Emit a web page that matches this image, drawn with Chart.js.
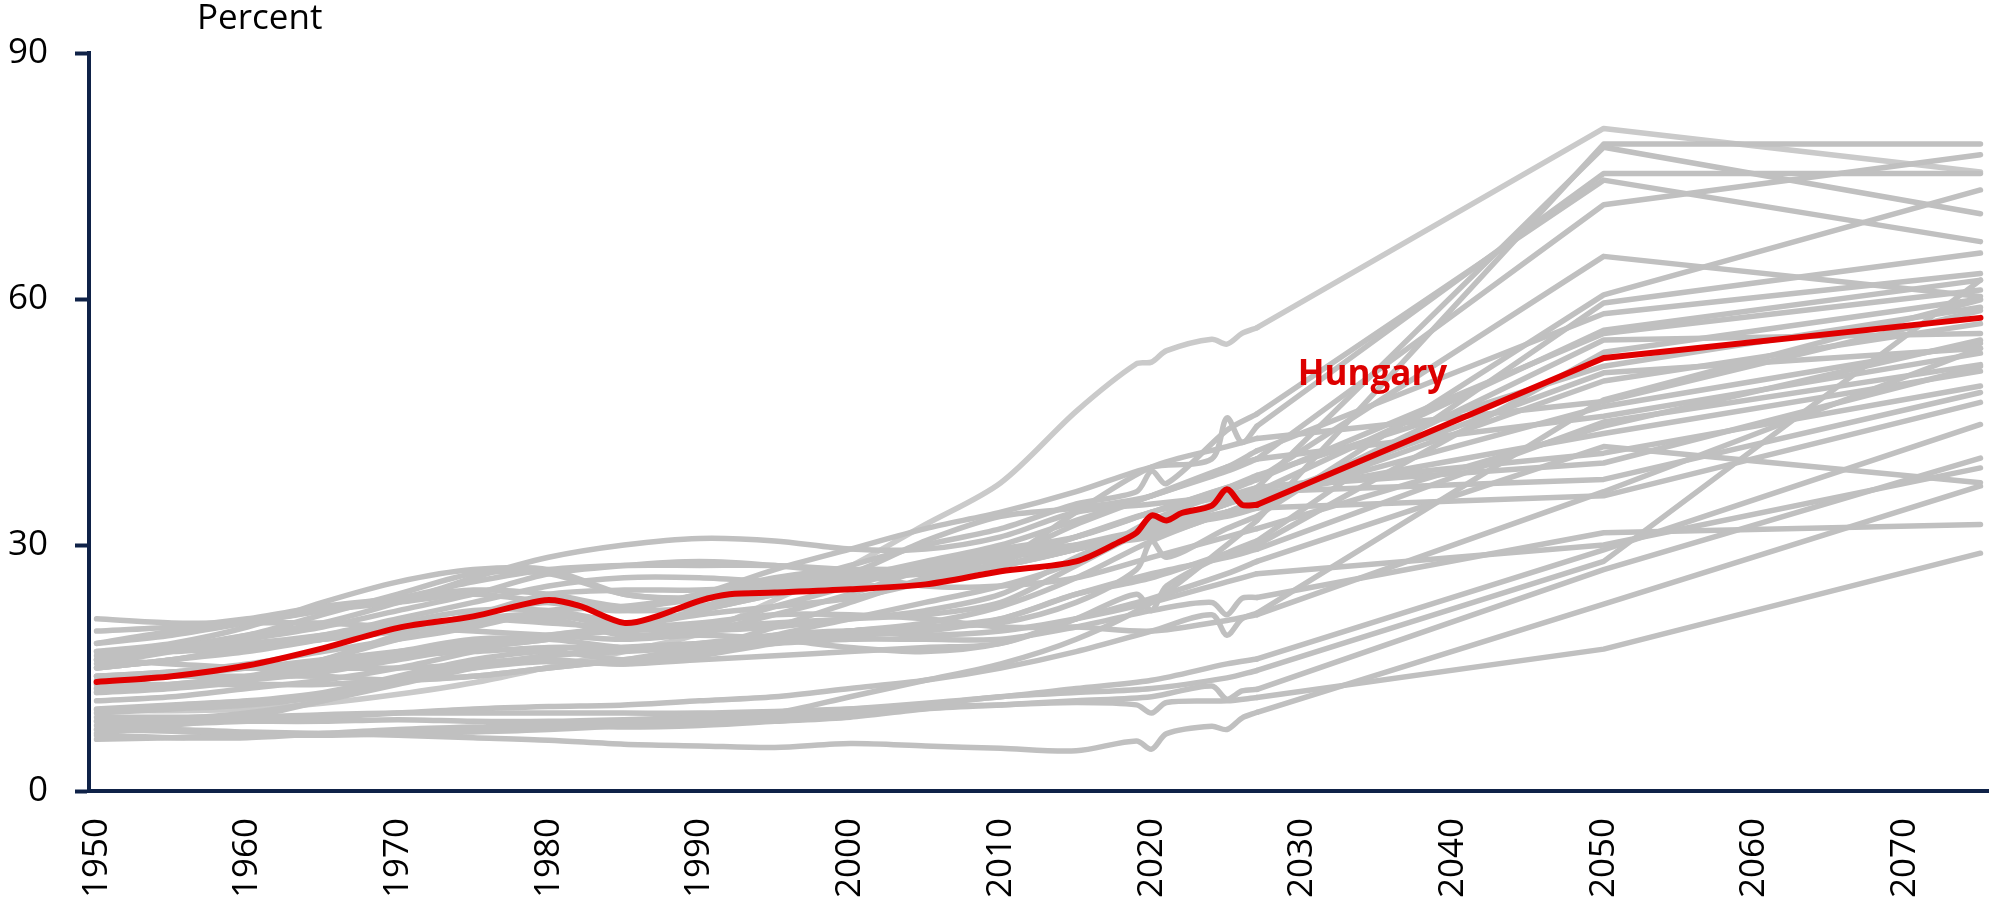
<!DOCTYPE html>
<html>
<head>
<meta charset="utf-8">
<script src="https://cdn.jsdelivr.net/npm/chart.js@4.4.1/dist/chart.umd.min.js"></script>
<style>
    body { margin: 0; background: #fff; }
    #wrap { width: 1990px; height: 908px; }
</style>
</head>
<body>
<div id="wrap"><canvas id="myChart" width="1990" height="908"></canvas></div>
<script>
// shared year grid for the grey countries (null = no point, line spans across)
const years = [1950, 1955, 1960, 1965, 1970, 1975, 1980, 1985, 1990, 1995, 2000, 2005, 2010, 2015,
    2019, 2020, 2021, 2024, 2025, 2026, 2027, 2050, 2075];

const japan       = [9.9, 9.8, 10.0, 10.7, 11.8, 13.2, 15.1, 17.0, 19.2, 23.3, 27.4, 32.5, 37.6, 46.3, 52.1, 52.3, 53.7, 55.1, 54.5, 55.8, 56.5, 80.8, 75.5];
const korea       = [6.3, 6.5, 6.8, 6.8, 7.0, 7.2, 7.5, 8.0, 8.8, 9.5, 11.5, 13.5, 15.5, 18.5, null, 23, null, null, 30, null, 33, 78.9, 78.9];
const spain       = [12.5, 13, 13.8, 15, 16.5, 17.5, 18.5, 20, 22, 24, 26, 26.5, 27.5, 29.5, null, 32, null, null, 35, null, 37, 78.5, 70.4];
const italy       = [13.5, 14.5, 15.5, 17, 18.5, 20, 22, 22.5, 24, 27, 29.5, 32, 34, 36.5, null, 39.5, null, 40.5, 45.5, 42.5, 44.5, 75.3, 75.3];
const greece      = [12, 12.5, 13.5, 16, 19, 21.5, 23, 22, 22.5, 25, 27.5, 30, 32, 35, 36.5, 39, 37.5, null, 44, null, 46, 74.5, 67];
const portugal    = [12.5, 13, 13.5, 14.5, 16, 17.5, 18.5, 20, 22, 24, 26, 28, 30, 33, null, 36, null, null, 39, null, 40.5, 71.5, 77.6];
const slovenia    = [10, 10.5, 11, 12, 14, 16, 17, 16, 16.5, 19, 21, 23, 25, 28, null, 33, null, null, 36.5, null, 38, 65.2, 60.3];
const poland      = [8.5, 8.8, 9.5, 11, 13.5, 15.5, 16, 15.5, 16.5, 18, 19.5, 20, 20.5, 23, 27, 30.5, 28.5, null, 32, null, 33.5, 60.5, 73.3];
const slovakia    = [9.5, 10, 10.5, 11.5, 13.5, 15, 15.8, 15.5, 16, 16.5, 17, 17.5, 18, 21, 24, 22, 25, null, 29, null, 30.5, 59.5, 65.6];
const germany     = [16, 17.5, 19, 21.5, 24, 26.5, 26.5, 24, 23.5, 24.5, 26.5, 30.5, 33.5, 34.5, null, 36, null, null, 39.5, null, 41.5, 58.2, 63.1];
const lithuania   = [14, 14.5, 15, 15.5, 17, 18.5, 18.5, 17.5, 17.5, 20, 23, 26, 28.5, 29.5, null, 32, null, null, 35, null, 36.5, 56.2, 62.3];
const latvia      = [17, 17.5, 18, 19, 20.5, 22, 22, 20.5, 20, 22.5, 25, 27.5, 29.5, 31, null, 34, null, null, 37, null, 38, 55.8, 61.1];
const czechia     = [12, 13, 14, 16, 18.5, 20.5, 21, 19, 19.5, 20, 21, 21.5, 23, 27.5, null, 32, null, null, 34, null, 34.5, 55, 55.8];
const estonia     = [16.5, 17, 17.5, 18.5, 19.5, 21, 21.5, 20, 19.5, 21.5, 24, 27, 28.5, 31, null, 34, null, null, 37, null, 38.5, 51.8, 59];
const austria     = [17, 18, 20, 23, 25.5, 27, 27, 24, 23.5, 24, 25.5, 27, 29, 30, null, 31, null, null, 34, null, 35.5, 51, 54];
const chile       = [8, 8.2, 8.5, 9, 9.5, 10, 10.3, 10.5, 11, 11.5, 12.5, 13.5, 15, 17, null, 19.5, null, 21.5, 19, 21, 21.7, 47.7, 59.9];
const finland     = [11, 11.5, 12.5, 13.5, 15, 17, 19, 20, 21.5, 22.5, 23.5, 25.5, 28, 34, null, 39.5, null, null, 42, null, 43, 47.5, 58.6];
const switzerland = [15, 16, 17.5, 18.5, 19.5, 21.5, 24, 24.5, 24.5, 25, 26, 26.5, 27.5, 29.5, null, 31.5, null, null, 34, null, 35.5, 46.9, 54.6];
const france      = [19.5, 20, 21, 22.5, 23.5, 24.5, 24, 22.5, 23.5, 25.5, 26.5, 27, 28.5, 32.5, null, 36, null, null, 39.5, null, 40.5, 45.7, 53.4];
const belgium     = [18, 19, 20.5, 22, 23, 24, 23, 22, 24, 26, 27, 27, 27.5, 29.5, null, 32, null, null, 35, null, 36, 43.6, 51.2];
const ireland     = [21, 20.5, 20.5, 20.5, 20, 19.5, 19, 18.5, 19, 18.5, 17.5, 17, 18, 21, null, 23.5, null, null, 26.5, null, 28, 42, 37.6];
const denmark     = [15, 16, 17.5, 19, 21, 23, 25, 26, 26, 25.5, 25, 25.5, 28, 31, null, 34, null, null, 36, null, 37, 41.2, 49.4];
const netherlands = [13, 14, 15, 16, 17, 18, 19, 19.5, 20, 20.5, 21, 22, 24, 28.5, null, 32.5, null, null, 35.5, null, 37, 40, 51.8];
const sweden      = [16, 17.5, 19, 20.5, 23, 26, 28.5, 30, 30.8, 30.5, 29.5, 29.5, 31, 34, null, 35, null, null, 36, null, 36.5, 38, 48.6];
const uk          = [18, 19.5, 20.5, 22, 23.5, 25.5, 27, 27.5, 27.5, 27.5, 27, 26.5, 27.5, 30, null, 32, null, null, 33.5, null, 34.5, 36, 47.4];
const colombia    = [7.5, 7.3, 7, 7, 7.3, 7.5, 8, 8.3, 8.5, 9, 9.5, 10.5, 11.5, 12, null, 12.5, null, null, 13.8, null, 14.7, 28, 62.3];
const israel      = [7, 8, 9, 11, 13, 15, 16.5, 17, 17.5, 18, 18.5, 18.5, 18.5, 20, null, 22, null, 23, 21.5, 23.5, 23.6, 31.5, 32.5];
const costaRica   = [8.5, 8.5, 8.5, 8.5, 8.7, 8.5, 8.5, 8.7, 9, 9.3, 10, 10.7, 11.5, 12.5, null, 13.5, null, null, 15.5, null, 16.1, 29.4, 44.7];
const turkey      = [6.8, 6.5, 6.5, 7, 7.5, 7.8, 8, 7.8, 8, 8.5, 9, 10, 10.5, 11, null, 11.5, null, 12.8, 11.2, 12.2, 12.4, 27, 40.6];
const mexico      = [7.5, 7.5, 7.2, 7, 6.8, 6.5, 6.2, 5.7, 5.5, 5.3, 5.8, 5.5, 5.2, 4.9, 6.1, 5.1, 7, 7.9, 7.5, 8.9, 9.6, 22.8, 37.2];
const other1      = [9, 9, 9, 9.3, 9.5, 9.5, 9.5, 9.5, 9.5, 9.7, 10, 10.3, 10.5, 10.8, 10.5, 9.5, 10.8, null, 11, null, 11.4, 17.3, 29];
const luxembourg  = [15, 16, 17, 18.5, 20, 21, 20.5, 20, 20.5, 21.5, 21.5, 21, 20, 20, null, 19.5, null, null, 20.8, null, 21.5, 36.5, 54];
const norway      = [15.5, 17, 18.5, 20, 22, 24, 26.5, 27.5, 28, 27.5, 26.5, 25, 25, 26, null, 28.5, null, null, 31, null, 32, 44.5, 55];
const canada      = [13, 13, 13, 13, 13.5, 14, 15, 16, 17.5, 18.5, 19.5, 20.5, 22.5, 26, null, 30.5, null, null, 34, null, 35, 50, 57];
const iceland     = [14, 14.5, 15, 15.5, 16.5, 17, 17.5, 17.5, 18, 19, 19.5, 19, 19.5, 21, null, 23, null, null, 25.5, null, 26.5, 30, 39.4];
const australia   = [14, 14, 14, 14, 13.5, 14, 15, 16, 17, 18.5, 19.5, 20, 21, 24, null, 26.5, null, null, 28.5, null, 29.5, 45, 52];
const newZealand  = [16, 15.5, 15, 15, 15, 15.5, 16.5, 17.5, 18, 18.5, 19, 19.5, 21, 24, null, 26, null, null, 29, null, 30, 53.5, 60];

// Hungary has its own, denser year list
const hunYears  = [1950, 1955, 1960, 1965, 1970, 1975, 1978, 1980, 1982, 1985, 1987, 1990, 1992, 1995, 2000, 2005, 2010, 2015,
    2018, 2019, 2020, 2021, 2022, 2024, 2025, 2026, 2027, 2050, 2075];
const hungary   = [13.3, 14.0, 15.3, 17.4, 19.9, 21.3, 22.6, 23.3, 22.6, 20.5, 21.2, 23.2, 24.0, 24.2, 24.6, 25.2, 26.8, 28.0,
    30.5, 31.5, 33.6, 33.0, 33.9, 34.8, 36.8, 34.9, 34.9, 52.8, 57.7];

const greySeries = [korea, spain, italy, greece, portugal, slovenia, poland, slovakia, germany, lithuania, latvia,
    czechia, estonia, austria, chile, finland, switzerland, france, belgium, ireland, denmark, netherlands, sweden, uk,
    colombia, israel, costaRica, turkey, mexico, other1, luxembourg, norway, canada, iceland, australia, newZealand];

const xTicks = [1950, 1960, 1970, 1980, 1990, 2000, 2010, 2020, 2030, 2040, 2050, 2060, 2070];
const yTicks = [0, 30, 60, 90];
const hunLabel = { text: 'Hungary', year: 2029.7, value: 49.5 };

const navy = '#0f2248';
const grey = '#c0c0c0';

// observed part (up to 2027) is drawn smooth, projections (2027-2050-2075) straight
function splitSeries(xs, vals, color, width) {
    const cut = xs.indexOf(2027);
    const pts = xs.map((yr, i) => ({ x: yr, y: vals[i] }));
    return [
        { data: pts.slice(0, cut + 1), borderColor: color, borderWidth: width, tension: 0.3 },
        { data: pts.slice(cut), borderColor: color, borderWidth: width, tension: 0 }
    ];
}

const datasets = [
    ...splitSeries(hunYears, hungary, '#e00000', 6),
    ...greySeries.flatMap(s => splitSeries(years, s, grey, 5.5)),
    ...splitSeries(years, japan, '#cacaca', 5.5)
];

const textPlugin = {
    id: 'texts',
    afterDatasetsDraw(chart) {
        const { ctx, scales: { x, y }, chartArea } = chart;
        ctx.save();
        ctx.textBaseline = 'alphabetic';
        ctx.textAlign = 'left';
        ctx.fillStyle = '#dd0000';
        ctx.font = 'bold 35px "Open Sans"';
        ctx.fillText(hunLabel.text, x.getPixelForValue(hunLabel.year), y.getPixelForValue(hunLabel.value));
        ctx.fillStyle = '#000';
        ctx.font = '35px "Open Sans"';
        ctx.fillText('Percent', chartArea.left + 108, 29);
        ctx.restore();
    }
};

Chart.defaults.font.family = '"Open Sans"';

const ctx = document.getElementById('myChart').getContext('2d');

const chart = new Chart(ctx, {
    type: 'line',
    data: { datasets: datasets },
    options: {
        responsive: false,
        animation: false,
        spanGaps: true,
        elements: {
            point: { radius: 0 },
            line: { borderJoinStyle: 'round', borderCapStyle: 'round' }
        },
        layout: { padding: { top: 53, right: 2, left: 0, bottom: 0 } },
        scales: {
            x: {
                type: 'linear',
                min: 1949.5,
                max: 2075.5,
                afterBuildTicks: (scale) => { scale.ticks = xTicks.map(v => ({ value: v })); },
                afterFit: (scale) => { scale.height = 117; },
                grid: { display: false, drawTicks: false },
                border: { display: true, color: navy, width: 4 },
                ticks: {
                    minRotation: 90,
                    maxRotation: 90,
                    padding: 27,
                    color: '#000',
                    font: { size: 35 },
                    callback: (v) => String(v)
                }
            },
            y: {
                min: 0,
                max: 90,
                afterBuildTicks: (scale) => { scale.ticks = yTicks.map(v => ({ value: v })); },
                afterFit: (scale) => { scale.width = 89; },
                grid: {
                    drawOnChartArea: false,
                    drawTicks: true,
                    tickLength: 14,
                    tickWidth: 4,
                    tickColor: navy
                },
                border: { display: true, color: navy, width: 4 },
                ticks: {
                    padding: 27,
                    color: '#000',
                    font: { size: 35 }
                }
            }
        },
        plugins: {
            legend: { display: false },
            tooltip: { enabled: false }
        }
    },
    plugins: [textPlugin]
});
</script>
</body>
</html>
